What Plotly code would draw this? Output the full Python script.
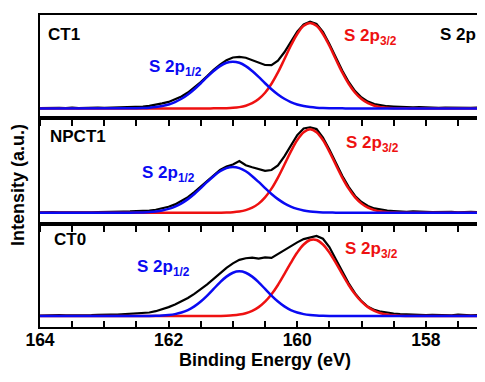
import plotly.graph_objects as go

# ---------------- data ----------------
energy = [164.0, 163.9, 163.8, 163.7, 163.6, 163.5, 163.4, 163.3, 163.2, 163.1,
          163.0, 162.9, 162.8, 162.7, 162.6, 162.5, 162.4, 162.3, 162.2, 162.1,
          162.0, 161.9, 161.8, 161.7, 161.6, 161.5, 161.4, 161.3, 161.2, 161.1,
          161.0, 160.9, 160.8, 160.7, 160.6, 160.5, 160.4, 160.3, 160.2, 160.1,
          160.0, 159.9, 159.8, 159.7, 159.6, 159.5, 159.4, 159.3, 159.2, 159.1,
          159.0, 158.9, 158.8, 158.7, 158.6, 158.5, 158.4, 158.3, 158.2, 158.1,
          158.0, 157.9, 157.8, 157.7, 157.6, 157.5, 157.4, 157.3, 157.2, 157.1,
          157.0]

ct1_exp = [0.3, 0.6, 0.2, 0.5, 0.4, 0.8, 0.3, 0.6, 0.5, 0.9,
           0.6, 0.8, 1.0, 1.2, 1.1, 1.6, 1.9, 2.6, 3.5, 5.0,
           6.5, 8.9, 12.0, 16.0, 21.0, 26.5, 32.5, 38.8, 44.0, 48.6,
           51.2, 51.9, 51.0, 48.3, 45.6, 43.7, 43.6, 48.0, 56.5, 66.8,
           77.2, 84.5, 87.2, 85.0, 77.0, 64.8, 51.3, 38.2, 26.6, 17.4,
           11.0, 6.8, 4.3, 2.9, 2.2, 1.8, 1.4, 1.3, 1.0, 1.2,
           0.8, 1.0, 0.6, 0.9, 0.7, 0.5, 0.8, 0.6, 0.9, 0.5,
           0.7]

npct1_exp = [0.5, 0.2, 0.6, 0.4, 0.7, 0.3, 0.5, 0.8, 0.4, 0.6,
             0.9, 0.7, 1.0, 1.2, 1.3, 1.5, 1.8, 2.2, 3.0, 4.3,
             6.0, 8.4, 11.6, 15.6, 20.8, 26.4, 32.3, 38.2, 43.1, 46.6,
             48.6, 52.0, 47.8, 45.8, 43.9, 42.2, 43.0, 47.6, 56.8, 67.4,
             78.0, 84.8, 86.0, 84.2, 75.5, 63.6, 50.0, 37.2, 26.0, 16.9,
             10.8, 6.8, 4.3, 3.0, 2.1, 1.7, 1.2, 1.0, 1.3, 0.8,
             1.0, 0.6, 0.9, 0.5, 0.8, 0.4, 0.7, 0.9, 0.5, 0.6,
             0.8]

ct0_exp = [0.5, 0.8, 0.4, 0.9, 0.6, 0.5, 1.0, 0.7, 0.9, 1.2,
           1.0, 1.5, 1.4, 1.9, 2.0, 2.3, 2.8, 3.6, 4.9, 6.8,
           9.0, 11.6, 14.6, 18.2, 22.4, 27.0, 32.0, 37.5, 43.2, 48.5,
           53.0, 56.6, 58.2, 58.9, 57.8, 59.0, 58.6, 62.4, 66.5, 70.8,
           74.2, 77.5, 79.4, 80.6, 77.8, 69.5, 57.2, 44.5, 33.0, 22.8,
           15.0, 9.4, 6.2, 4.4, 3.2, 2.6, 2.0, 1.7, 1.3, 1.5,
           1.0, 1.2, 0.8, 1.1, 0.7, 1.4, 0.9, 0.6, 1.0, 0.7,
           0.8]

energy_fit = [164.0,
              162.6, 162.5, 162.4, 162.3, 162.2, 162.1, 162.0, 161.9, 161.8, 161.7,
              161.6, 161.5, 161.4, 161.3, 161.2, 161.1, 161.0, 160.9, 160.8, 160.7,
              160.6, 160.5, 160.4, 160.3, 160.2, 160.1, 160.0, 159.9, 159.8, 159.7,
              159.6, 159.5, 159.4, 159.3, 159.2, 159.1, 159.0, 158.9, 158.8, 158.7,
              158.6, 158.5, 158.4, 158.3, 158.2, 158.1, 158.0,
              157.0]

ct1_p12 = [0,
           0.08, 0.18, 0.37, 0.72, 1.34, 2.37, 3.98, 6.35, 9.68, 14.0,
           19.3, 25.3, 31.7, 37.6, 42.6, 45.9, 47.0, 45.9, 42.6, 37.6,
           31.7, 25.3, 19.3, 14.0, 9.68, 6.35, 3.98, 2.37, 1.34, 0.72,
           0.37, 0.18, 0.08, 0.04, 0, 0, 0, 0, 0, 0,
           0, 0, 0, 0, 0, 0, 0,
           0]
ct1_p32 = [0,
           0, 0, 0, 0, 0, 0, 0, 0, 0, 0,
           0, 0, 0, 0.03, 0.1, 0.25, 0.58, 1.3, 2.7, 5.2,
           9.4, 15.8, 24.8, 36.2, 49.5, 63.0, 74.9, 83.1, 86.0, 83.1,
           74.9, 63.0, 49.5, 36.2, 24.8, 15.8, 9.4, 5.2, 2.7, 1.3,
           0.58, 0.25, 0.1, 0.03, 0, 0, 0,
           0]

npct1_p12 = [0,
             0.08, 0.18, 0.36, 0.71, 1.32, 2.32, 3.90, 6.21, 9.48, 13.7,
             18.9, 24.8, 31.0, 36.8, 41.7, 44.9, 46.0, 44.9, 41.7, 36.8,
             31.0, 24.8, 18.9, 13.7, 9.48, 6.21, 3.90, 2.32, 1.32, 0.71,
             0.36, 0.18, 0.08, 0.04, 0, 0, 0, 0, 0, 0,
             0, 0, 0, 0, 0, 0, 0,
             0]
npct1_p32 = [0,
             0, 0, 0, 0, 0, 0, 0, 0, 0, 0,
             0, 0, 0, 0.03, 0.09, 0.24, 0.57, 1.27, 2.63, 5.08,
             9.16, 15.4, 24.2, 35.4, 48.3, 61.5, 73.2, 81.1, 84.0, 81.1,
             73.2, 61.5, 48.3, 35.4, 24.2, 15.4, 9.16, 5.08, 2.63, 1.27,
             0.57, 0.24, 0.09, 0.03, 0, 0, 0,
             0]

ct0_p12 = [0,
           0, 0.02, 0.04, 0.10, 0.23, 0.50, 1.03, 1.98, 3.58, 6.08,
           9.72, 14.6, 20.6, 27.3, 34.0, 39.7, 43.6, 45.0, 43.6, 39.7,
           34.0, 27.3, 20.6, 14.6, 9.72, 6.08, 3.58, 1.98, 1.03, 0.50,
           0.23, 0.10, 0.04, 0.02, 0, 0, 0, 0, 0, 0,
           0, 0, 0, 0, 0, 0, 0,
           0]
ct0_p32 = [0,
           0, 0, 0, 0, 0, 0, 0, 0, 0, 0,
           0, 0, 0, 0.06, 0.15, 0.34, 0.74, 1.51, 2.90, 5.26,
           8.98, 14.45, 21.9, 31.3, 42.2, 53.5, 63.9, 72.0, 76.5, 76.5,
           72.0, 63.9, 53.5, 42.2, 31.3, 21.9, 14.45, 8.98, 5.26, 2.90,
           1.51, 0.74, 0.34, 0.15, 0.06, 0, 0,
           0]

sample_names = ["CT1", "NPCT1", "CT0"]
exp_series = [ct1_exp, npct1_exp, ct0_exp]
p12_series = [ct1_p12, npct1_p12, ct0_p12]
p32_series = [ct1_p32, npct1_p32, ct0_p32]

tick_values = [164, 162, 160, 158]
tick_labels = ["164", "162", "160", "158"]
minor_tick_values = [163.5, 163.0, 162.5, 161.5, 161.0, 160.5,
                     159.5, 159.0, 158.5, 157.5]

# ---------------- style ----------------
OFF = 8                      # default page (body) margin in the browser
W, H = 485, 382
ML, MT = 40 - OFF, 13 - OFF  # so the plot area starts at page px (40, 13)
PLOT_RIGHT, PLOT_BOTTOM = 485, 327   # page px
MR = W - (PLOT_RIGHT - OFF)
MB = H - (PLOT_BOTTOM - OFF)
PW, PH = W - ML - MR, H - MT - MB
bounds_px = [13, 117, 223, 327]
y_ranges = [[-10, 94], [-11, 95], [-11, 93]]
BLUE = "#0a0af2"
RED = "#ee1111"
FONT = "Liberation Sans, Arial, sans-serif"


def px2paper(xp, yp):
    """page pixel -> paper coordinates"""
    return (xp - 40) / PW, (PLOT_BOTTOM - yp) / PH


fig = go.Figure()
for i in range(3):
    sfx = "" if i == 0 else str(i + 1)
    xa, ya = "x" + sfx, "y" + sfx
    fig.add_trace(go.Scatter(x=energy, y=exp_series[i], mode="lines",
                             line=dict(color="black", width=2.2),
                             xaxis=xa, yaxis=ya, showlegend=False))
    fig.add_trace(go.Scatter(x=energy_fit, y=p32_series[i], mode="lines",
                             line=dict(color=RED, width=2.5, shape="spline"),
                             xaxis=xa, yaxis=ya, showlegend=False))
    fig.add_trace(go.Scatter(x=energy_fit, y=p12_series[i], mode="lines",
                             line=dict(color=BLUE, width=2.5, shape="spline"),
                             xaxis=xa, yaxis=ya, showlegend=False))

layout = dict(width=W, height=H, margin=dict(l=ML, r=MR, t=MT, b=MB),
              paper_bgcolor="white", plot_bgcolor="white",
              font=dict(family=FONT, color="black"))
for i in range(3):
    sfx = "" if i == 0 else str(i + 1)
    top_px, bot_px = bounds_px[i], bounds_px[i + 1]
    dom = [(PLOT_BOTTOM - bot_px) / PH, (PLOT_BOTTOM - top_px) / PH]
    last = i == 2
    tick_side = "inside" if last else "outside"
    layout["xaxis" + sfx] = dict(
        domain=[0, 1], range=[164, 157.08], anchor="y" + sfx,
        tickmode="array", tickvals=tick_values,
        ticktext=["<b>%s</b>" % t for t in tick_labels],
        showticklabels=last,
        ticks=tick_side, ticklen=6, tickwidth=2, tickcolor="black",
        minor=dict(tickmode="array", tickvals=minor_tick_values,
                   ticks=tick_side, ticklen=6, tickwidth=2, tickcolor="black"),
        showline=True, linewidth=2, linecolor="black",
        mirror=True, showgrid=False, zeroline=False,
        tickfont=dict(size=17.5, family=FONT, color="black"),
        ticklabelstandoff=-4)
    layout["yaxis" + sfx] = dict(
        domain=dom, range=y_ranges[i], anchor="x" + sfx,
        showline=True, linewidth=2, linecolor="black", mirror=False,
        ticks="", showticklabels=False, showgrid=False, zeroline=False)
fig.update_layout(**layout)

ann = []
label_font = dict(family=FONT, size=17)
name_pos = [(46, 32.5), (48, 135.5), (51.7, 239)]
p12_pos = [(146.7, 66), (140, 173), (135, 268)]
p32_pos = [(341.7, 35), (344, 143), (343.3, 249.5)]
for i in range(3):
    x, y = px2paper(*name_pos[i])
    ann.append(dict(x=x, y=y, xref="paper", yref="paper",
                    text="<b>%s</b>" % sample_names[i],
                    showarrow=False, xanchor="left", yanchor="middle",
                    font=dict(label_font, color="black")))
    x, y = px2paper(*p12_pos[i])
    ann.append(dict(x=x, y=y, xref="paper", yref="paper",
                    text="<b>S 2p<sub>1/2</sub></b>", showarrow=False,
                    xanchor="left", yanchor="middle",
                    font=dict(label_font, color=BLUE)))
    x, y = px2paper(*p32_pos[i])
    ann.append(dict(x=x, y=y, xref="paper", yref="paper",
                    text="<b>S 2p<sub>3/2</sub></b>", showarrow=False,
                    xanchor="left", yanchor="middle",
                    font=dict(label_font, color=RED)))
x, y = px2paper(438, 32.5)
ann.append(dict(x=x, y=y, xref="paper", yref="paper", text="<b>S 2p</b>",
                showarrow=False, xanchor="left", yanchor="middle",
                font=dict(label_font, color="black")))
x, y = px2paper(265, 360)
ann.append(dict(x=x, y=y, xref="paper", yref="paper",
                text="<b>Binding Energy (eV)</b>",
                showarrow=False, xanchor="center", yanchor="middle",
                font=dict(family=FONT, size=18, color="black")))
x, y = px2paper(18, 184)
ann.append(dict(x=x, y=y, xref="paper", yref="paper",
                text="<b>Intensity (a.u.)</b>",
                showarrow=False, xanchor="center", yanchor="middle",
                textangle=-90,
                font=dict(family=FONT, size=18, color="black")))
fig.update_layout(annotations=ann)

fig.write_html("out.html")
